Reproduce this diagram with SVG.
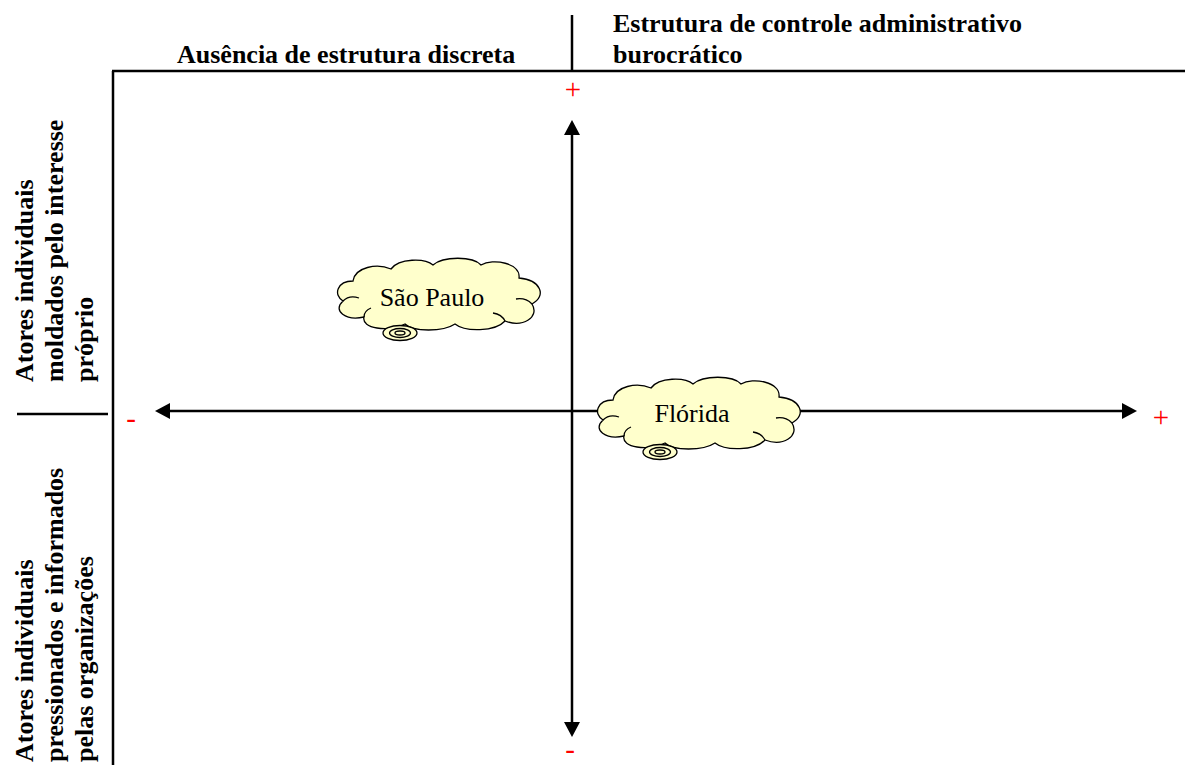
<svg xmlns="http://www.w3.org/2000/svg" width="1185" height="765" viewBox="0 0 1185 765">
<style>
.lbl{font-family:"Liberation Serif","Times New Roman",serif;font-size:26px;font-weight:bold;fill:#000}
.cl{font-family:"Liberation Serif","Times New Roman",serif;font-size:26px;fill:#000;text-anchor:middle}
.sg{font-family:"Liberation Serif","Times New Roman",serif;font-size:29px;fill:#ff0000;text-anchor:middle}
.frame{stroke:#000;stroke-width:2.5;fill:none}
.axis{stroke:#000;stroke-width:2.5;fill:none}
.cloud{fill:#ffffcc;stroke:#000;stroke-width:1.3}
.crease{fill:none;stroke:#000;stroke-width:1.3}
</style>
<defs>
<marker id="ah" viewBox="0 0 15 16" refX="0" refY="8" markerWidth="15" markerHeight="16" markerUnits="userSpaceOnUse" orient="auto-start-reverse">
<path d="M0,0 L15,8 L0,16 Z" fill="#000"/>
</marker>
<g id="cloudShape">
<path class="cloud" d="M10,42 C0,36 4,22 20,22 C22,8 44,4 58,10 C66,-1 92,-1 100,6 C110,-3 140,-3 148,6 C160,-1 188,4 186,19 C208,21 214,37 199,45 C207,58 190,69 172,62 C162,73 132,73 122,65 C110,73 80,73 72,65 C55,73 28,70 31,58 C13,62 -1,52 10,42 Z"/>
<path class="crease" d="M10,42 C14,38 20,37 26,39"/>
<path class="crease" d="M31,58 C31,54 33,51 38,49"/>
<path class="crease" d="M199,45 C195,41 189,39 183,40"/>
<path class="crease" d="M172,62 C170,58 166,55 160,54"/>
<ellipse cx="67" cy="74" rx="17" ry="7.5" fill="#ffffcc" stroke="#000" stroke-width="1.3"/>
<ellipse cx="67" cy="74" rx="10.5" ry="4.5" fill="none" stroke="#000" stroke-width="1.3"/>
<ellipse cx="67" cy="74" rx="5" ry="2" fill="none" stroke="#000" stroke-width="1.3"/>
</g>
</defs>
<g id="frame">
<line class="frame" x1="112" y1="71" x2="1185" y2="71"/>
<line class="frame" x1="113" y1="71" x2="113" y2="765"/>
<line class="frame" x1="572" y1="15" x2="572" y2="71"/>
<line class="frame" x1="17" y1="414" x2="108" y2="414"/>
</g>
<g id="headers">
<text class="lbl" x="177" y="63">Ausência de estrutura discreta</text>
<text class="lbl" x="613" y="32">Estrutura de controle administrativo</text>
<text class="lbl" x="613" y="63">burocrático</text>
</g>
<g id="side-top">
<text class="lbl" transform="translate(33,382) rotate(-90)">Atores individuais</text>
<text class="lbl" transform="translate(63,382) rotate(-90)">moldados pelo interesse</text>
<text class="lbl" transform="translate(93,382) rotate(-90)">próprio</text>
</g>
<g id="side-bottom">
<text class="lbl" transform="translate(33,762) rotate(-90)">Atores individuais</text>
<text class="lbl" transform="translate(63,762) rotate(-90)">pressionados e informados</text>
<text class="lbl" transform="translate(93,762) rotate(-90)">pelas organizações</text>
</g>
<g id="connectors">
<line class="axis" x1="572" y1="135" x2="572" y2="722" marker-start="url(#ah)" marker-end="url(#ah)"/>
<line class="axis" x1="170" y1="411" x2="1122" y2="411" marker-start="url(#ah)" marker-end="url(#ah)"/>
</g>
<g id="signs">
<text class="sg" x="573" y="99">+</text>
<text class="sg" x="1161" y="427">+</text>
<text class="sg" x="131" y="428">-</text>
<text class="sg" x="570" y="759">-</text>
</g>
<g id="node-sao-paulo" transform="translate(333,259)">
<use href="#cloudShape"/>
<text class="cl" x="99" y="47">São Paulo</text>
</g>
<g id="node-florida" transform="translate(593,378)">
<use href="#cloudShape"/>
<text class="cl" x="99" y="44">Flórida</text>
</g>
</svg>
